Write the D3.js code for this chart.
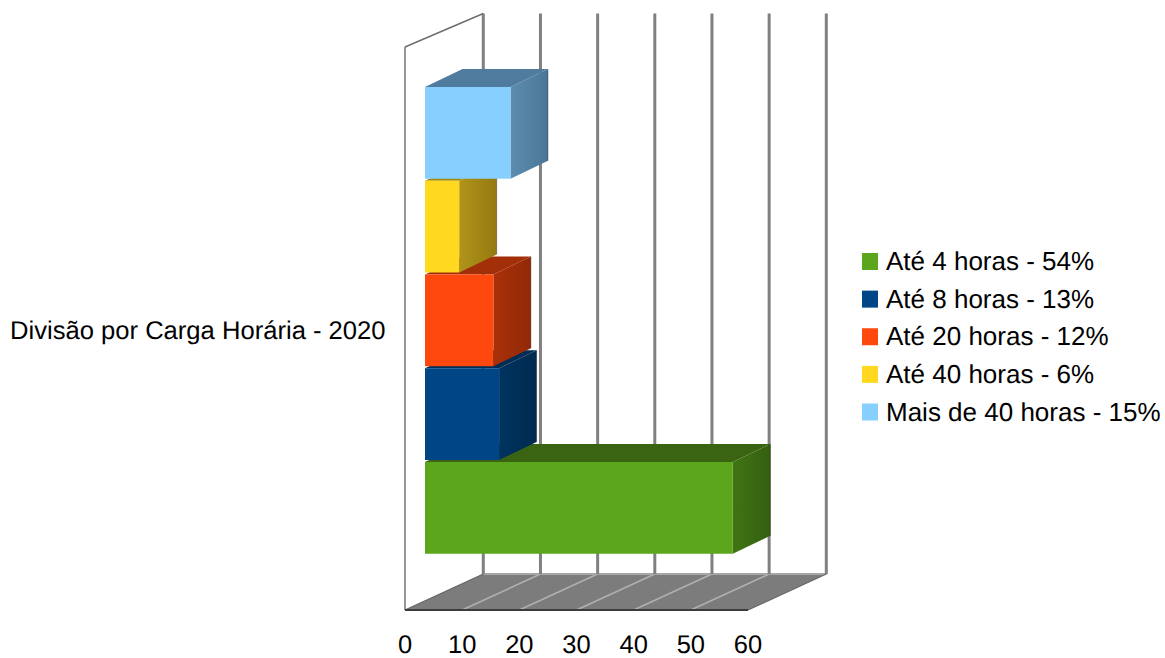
<!DOCTYPE html>
<html lang="pt">
<head>
<meta charset="utf-8">
<script src="https://cdn.jsdelivr.net/npm/d3@7"></script>
<style>
  html, body { margin: 0; padding: 0; background: #fff; }
  svg { display: block; }
  text { font-family: "Liberation Sans", Arial, sans-serif; fill: #000; text-rendering: geometricPrecision; }
</style>
</head>
<body>
<svg id="chart" width="1165" height="658"></svg>
<script>
// Chart data
const categoryLabel = "Divisão por Carga Horária - 2020";
const seriesNames = ["Até 4 horas - 54%", "Até 8 horas - 13%", "Até 20 horas - 12%", "Até 40 horas - 6%", "Mais de 40 horas - 15%"];
const seriesValues = [54, 13, 12, 6, 15];
const seriesFront = ["#5ca61d", "#004586", "#ff480e", "#ffd81f", "#87cfff"];
const seriesTop = ["#3a6412", "#002c55", "#a32f09", "#a38a14", "#4f7b9f"];
const seriesSideA = ["#407514", "#00345f", "#aa3009", "#b0941a", "#5c8dae"];
const seriesSideB = ["#345f10", "#002a50", "#922907", "#947a10", "#4a7696"];
const xTicks = [0, 10, 20, 30, 40, 50, 60];

// Oblique projection: the floor runs from the front plane back to the rear wall
const floorDepth = { dx: 78.3, dy: -36 };
const barDepth = { dx: 37.5, dy: -18 };
const wallTop = 13.5;
const wallFrontTop = 47;
const floorY = 610;

const x = d3.scaleLinear().domain([0, 60]).range([405, 748]);
// Bars sit on a plane set back from the front edge of the floor
const xBar = d3.scaleLinear().domain([0, 60]).range([425, 767]);
const y = d3.scaleBand().domain(seriesNames).range([555.75, 87]);
const barHeight = y.bandwidth() - 2;

const svg = d3.select("#chart");
const defs = svg.append("defs");
const poly = pts => pts.map(p => p.join(",")).join(" ");

// Side faces shade from left to right
seriesNames.forEach((_, i) => {
  const g = defs.append("linearGradient").attr("id", `side${i}`);
  g.append("stop").attr("offset", "0").attr("stop-color", seriesSideA[i]);
  g.append("stop").attr("offset", "1").attr("stop-color", seriesSideB[i]);
});

// Floor
const backY = floorY + floorDepth.dy;
svg.append("polygon")
  .attr("points", poly([
    [x(0), floorY], [x(60), floorY],
    [x(60) + floorDepth.dx, backY], [x(0) + floorDepth.dx, backY]
  ]))
  .attr("fill", "#7c7c7c");

svg.append("g").selectAll("line").data(xTicks.slice(1, -1)).join("line")
  .attr("x1", d => x(d)).attr("y1", floorY)
  .attr("x2", d => x(d) + floorDepth.dx).attr("y2", backY)
  .attr("stroke", "#b0b0b0").attr("stroke-width", 1.6);

svg.append("line")
  .attr("x1", x(0) + floorDepth.dx).attr("y1", backY)
  .attr("x2", x(60) + floorDepth.dx).attr("y2", backY)
  .attr("stroke", "#a6a6a6").attr("stroke-width", 2);

// Rear wall gridlines
svg.append("g").selectAll("line").data(xTicks).join("line")
  .attr("x1", d => x(d) + floorDepth.dx).attr("y1", wallTop)
  .attr("x2", d => x(d) + floorDepth.dx).attr("y2", backY)
  .attr("stroke", "#808080").attr("stroke-width", 3);

// Side wall outline and floor edges
svg.append("line")
  .attr("x1", x(0)).attr("y1", floorY)
  .attr("x2", x(0)).attr("y2", wallFrontTop)
  .attr("stroke", "#969696").attr("stroke-width", 2);

svg.append("line")
  .attr("x1", x(0)).attr("y1", wallFrontTop)
  .attr("x2", x(0) + floorDepth.dx).attr("y2", wallTop)
  .attr("stroke", "#6e6e6e").attr("stroke-width", 1.5);

[0, 60].forEach(v => {
  svg.append("line")
    .attr("x1", x(v)).attr("y1", floorY)
    .attr("x2", x(v) + floorDepth.dx).attr("y2", backY)
    .attr("stroke", "#666").attr("stroke-width", 1.2);
});

svg.append("line")
  .attr("x1", x(0)).attr("y1", floorY)
  .attr("x2", x(60)).attr("y2", floorY)
  .attr("stroke", "#3c3c3c").attr("stroke-width", 2);

// Bars, lowest first so each one overlaps the top of the bar beneath it
seriesNames.forEach((name, i) => {
  const v = seriesValues[i];
  const bar = svg.append("g");
  const x0 = xBar(0);
  const x1 = xBar(v);
  const yT = y(name);
  const yB = yT + barHeight;
  const { dx, dy } = barDepth;

  bar.append("polygon")
    .attr("points", poly([[x0, yT], [x1, yT], [x1 + dx, yT + dy], [x0 + dx, yT + dy]]))
    .attr("fill", seriesTop[i]);
  bar.append("polygon")
    .attr("points", poly([[x1, yT], [x1 + dx, yT + dy], [x1 + dx, yB + dy], [x1, yB]]))
    .attr("fill", `url(#side${i})`);
  bar.append("line")
    .attr("x1", x1 + dx).attr("y1", yT + dy)
    .attr("x2", x1 + dx).attr("y2", yB + dy)
    .attr("stroke", "#000").attr("stroke-opacity", 0.3).attr("stroke-width", 1);
  bar.append("rect")
    .attr("x", x0).attr("y", yT)
    .attr("width", x1 - x0).attr("height", barHeight)
    .attr("fill", seriesFront[i]);
});

// Value axis labels
svg.append("g").selectAll("text").data(xTicks).join("text")
  .attr("x", d => x(d)).attr("y", 652.5)
  .attr("text-anchor", "middle")
  .attr("font-size", 25.5)
  .text(d => d);

// Category label
svg.append("text")
  .attr("x", 10).attr("y", 339)
  .attr("font-size", 25.6)
  .text(categoryLabel);

// Legend
const legendY = d3.scalePoint().domain(seriesNames).range([261.5, 412]);
const legend = svg.append("g").selectAll("g").data(seriesNames).join("g")
  .attr("transform", d => `translate(862,${legendY(d)})`);
legend.append("rect")
  .attr("x", 0).attr("y", -8.5).attr("width", 16).attr("height", 17)
  .attr("fill", (d, i) => seriesFront[i]);
legend.append("text")
  .attr("x", 24).attr("y", 8.5)
  .attr("font-size", 26)
  .text(d => d);
</script>
</body>
</html>
